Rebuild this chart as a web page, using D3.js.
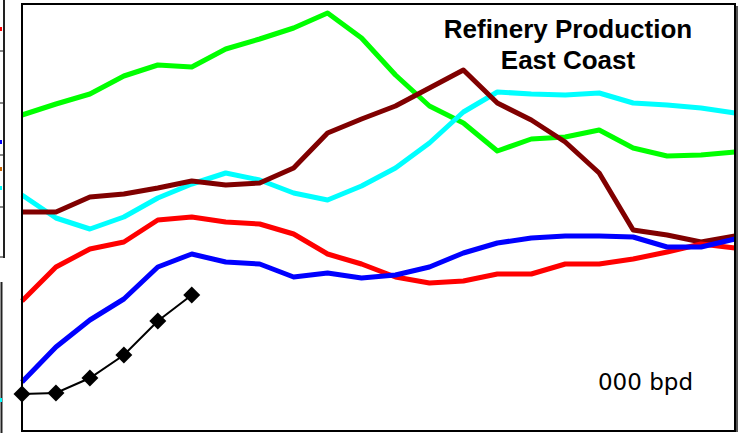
<!DOCTYPE html>
<html>
<head>
<meta charset="utf-8">
<script src="https://cdn.jsdelivr.net/npm/d3@7"></script>
<style>
  body { margin: 0; background: #fff; }
  svg { display: block; }
</style>
</head>
<body>
<div id="chart"></div>
<script>
// periods along the x axis (no labels shown on the chart)
var periods = d3.range(22);

// series values, 000 bpd
var greenVals  = [316, 327, 337, 355, 366, 364, 382, 392, 403, 418, 393, 356, 325, 308, 280, 292, 294, 301, 283, 275, 276, 279];
var cyanVals   = [236, 213, 202, 214, 233, 247, 258, 251, 238, 231, 245, 263, 288, 319, 339, 337, 336, 338, 328, 326, 323, 318];
var maroonVals = [219, 219, 234, 237, 243, 250, 246, 248, 263, 298, 312, 325, 343, 361, 328, 311, 289, 258, 201, 196, 189, 195];
var redVals    = [130, 164, 182, 189, 211, 214, 209, 207, 197, 177, 167, 154, 148, 150, 157, 157, 167, 167, 172, 179, 187, 183];
var blueVals   = [49, 84, 111, 132, 164, 177, 169, 167, 154, 158, 153, 156, 164, 178, 188, 193, 195, 195, 194, 184, 184, 192];
var blackVals  = [37, 38, 53, 76, 110, 136];

var titleLines = ["Refinery Production", "East Coast"];
var unitLabel = "000 bpd";

var width = 745,
  height = 433;

var svg = d3.select("#chart")
  .append("svg")
  .attr("width", width)
  .attr("height", height)

// bits of the neighbouring panels at the left edge
var side = svg.append("g")
side.selectAll(".tick")
  .data([51, 103, 155, 207, 257])
  .enter().append("line")
  .attr("x1", 0).attr("x2", 4)
  .attr("y1", function(d) { return d }).attr("y2", function(d) { return d })
  .attr("stroke", "#888").attr("stroke-width", 2)
side.append("line")
  .attr("x1", 4).attr("x2", 4).attr("y1", 0).attr("y2", 258)
  .attr("stroke", "#222").attr("stroke-width", 2)
side.append("line")
  .attr("x1", 1.5).attr("x2", 1.5).attr("y1", 282).attr("y2", 433)
  .attr("stroke", "#222").attr("stroke-width", 2)
side.selectAll(".dot")
  .data([[29, "#ff0000"], [142, "#0000ff"], [169, "#cc6600"], [188, "#00ffff"], [400, "#00ffff"]])
  .enter().append("rect")
  .attr("x", 0).attr("y", function(d) { return d[0] - 2 })
  .attr("width", 2).attr("height", 4)
  .attr("fill", function(d) { return d[1] })

var plot = { left: 22, top: 4, right: 735, bottom: 431 };

var x = d3.scaleLinear().domain([0, 21]).range([plot.left, plot.right]);
var y = d3.scaleLinear().domain([0, 427]).range([plot.bottom, plot.top]);

var line = d3.line()
  .x(function(d, i) { return x(periods[i]) })
  .y(function(d) { return y(d) })

var series = [
  { vals: greenVals, color: "#00ff00" },
  { vals: cyanVals, color: "#00ffff" },
  { vals: maroonVals, color: "#800000" },
  { vals: redVals, color: "#ff0000" },
  { vals: blueVals, color: "#0000ff" }
];

svg.selectAll(".series")
  .data(series)
  .enter().append("path")
  .attr("class", "series")
  .attr("d", function(d) { return line(d.vals) })
  .attr("fill", "none")
  .attr("stroke", function(d) { return d.color })
  .attr("stroke-width", 5)
  .attr("stroke-linejoin", "round")

svg.append("path")
  .attr("d", line(blackVals))
  .attr("fill", "none")
  .attr("stroke", "#000")
  .attr("stroke-width", 2)

svg.selectAll(".marker")
  .data(blackVals)
  .enter().append("rect")
  .attr("class", "marker")
  .attr("x", -6).attr("y", -6)
  .attr("width", 12).attr("height", 12)
  .attr("transform", function(d, i) {
    return "translate(" + x(periods[i]) + "," + y(d) + ") rotate(45)"
  })
  .attr("fill", "#000")

// plot frame
svg.append("rect")
  .attr("x", plot.left).attr("y", plot.top)
  .attr("width", plot.right - plot.left).attr("height", plot.bottom - plot.top)
  .attr("fill", "none")
  .attr("stroke", "#000")
  .attr("stroke-width", 2)
svg.append("line")
  .attr("x1", plot.right + 2).attr("x2", plot.right + 2)
  .attr("y1", plot.top + 2).attr("y2", plot.bottom + 1)
  .attr("stroke", "#555").attr("stroke-width", 2)

svg.selectAll(".title")
  .data(titleLines)
  .enter().append("text")
  .attr("class", "title")
  .attr("x", 568)
  .attr("y", function(d, i) { return 38 + i * 31 })
  .attr("text-anchor", "middle")
  .attr("font-family", "Liberation Sans, Arial, sans-serif")
  .attr("font-weight", "bold")
  .attr("font-size", 26)
  .text(function(d) { return d })

svg.append("text")
  .attr("x", 693)
  .attr("y", 390)
  .attr("text-anchor", "end")
  .attr("font-family", "DejaVu Sans, sans-serif")
  .attr("font-size", 23)
  .text(unitLabel)
</script>
</body>
</html>
